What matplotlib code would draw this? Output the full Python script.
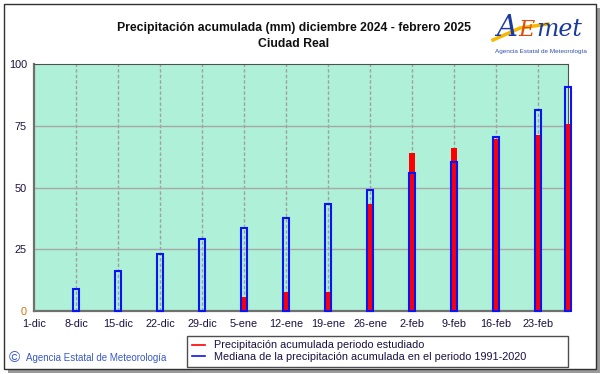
import matplotlib
matplotlib.use("Agg")
import matplotlib.pyplot as plt
from matplotlib.patches import Rectangle
from matplotlib.lines import Line2D

plt.rcParams['font.family'] = ['Liberation Sans', 'DejaVu Sans']

# dias desde el 1 de diciembre
dias = [0, 7, 14, 21, 28, 35, 42, 49, 56, 63, 70, 77, 84, 89]
etiquetas = ['1-dic', '8-dic', '15-dic', '22-dic', '29-dic', '5-ene', '12-ene',
             '19-ene', '26-ene', '2-feb', '9-feb', '16-feb', '23-feb']
mediana = [0, 8.9, 16.2, 23.0, 29.1, 33.7, 37.7, 43.3, 49.1, 56.0, 60.4, 70.3, 81.4, 90.8]
observada = [0, 0, 0, 0, 0, 5.7, 7.8, 7.8, 43.3, 63.8, 66.1, 69.5, 71.3, 75.6]

W, H = 601, 374
fig = plt.figure(figsize=(W / 100, H / 100), dpi=100)
fig.patch.set_facecolor('white')

def px(x, y):
    return x / W, 1 - y / H

# marco exterior con sombra
x0, y0 = px(8, 373)
fig.patches.append(Rectangle((x0, y0), 592 / W, 365 / H, transform=fig.transFigure,
                             facecolor='#9a9a9a', edgecolor='none', zorder=-3))
x0, y0 = px(4, 369)
fig.patches.append(Rectangle((x0, y0), 592 / W, 365 / H, transform=fig.transFigure,
                             facecolor='white', edgecolor='#303030', lw=1, zorder=-2))

l, t, r, b = 34, 64, 568, 311
ax = fig.add_axes([l / W, 1 - b / H, (r - l) / W, (b - t) / H])
ax.set_zorder(2)
ax.set_facecolor('#aef0d8')

# solo las barras con valor
dm = [d for d, v in zip(dias, mediana) if v > 0]
vm = [v for v in mediana if v > 0]
do = [d for d, v in zip(dias, observada) if v > 0]
vo = [v for v in observada if v > 0]

ax.bar(do, vo, width=1.0, color='#ff0000', edgecolor='none', zorder=3, clip_on=False)
ax.bar(dm, vm, width=1.05, facecolor='none', edgecolor='#0a14f5', linewidth=1.5,
       zorder=4, clip_on=False)

ax.set_xlim(0, 89)
ax.set_ylim(0, 100)
ax.set_xticks(dias[:-1])
ax.set_xticklabels(etiquetas)
ax.set_yticks([0, 25, 50, 75, 100])
ax.set_yticklabels(['0', '25', '50', '75', '100'])
ax.tick_params(axis='both', length=0, labelsize=7.8, colors='#1a1040')
ax.tick_params(axis='x', pad=6)
ax.tick_params(axis='y', pad=5)
ax.get_yticklabels()[0].set_color('#d87010')

for d in dias[1:-1]:
    ax.axvline(d, color='#a0a0a0', lw=1, ls=(0, (2.5, 1.5)), zorder=1)
for v in [25, 50, 75]:
    ax.axhline(v, color='#a8a8a8', lw=1, zorder=1)

for s in ['left', 'bottom']:
    ax.spines[s].set_color('#707070')
    ax.spines[s].set_linewidth(1.6)
for s in ['top', 'right']:
    ax.spines[s].set_color('#505050')
    ax.spines[s].set_linewidth(0.8)

# titulo
fig.text(294 / W, 1 - 28 / H, 'Precipitación acumulada (mm) diciembre 2024 - febrero 2025',
         ha='center', va='center', fontsize=8.8, fontweight='bold', color='#101010')
fig.text(294 / W, 1 - 44 / H, 'Ciudad Real', ha='center', va='center',
         fontsize=8.8, fontweight='bold', color='#101010')

# logo
fig.add_artist(Line2D([493 / W, 520 / W, 548 / W], [1 - 40 / H, 1 - 28 / H, 1 - 24 / H],
                      transform=fig.transFigure, color='#f5b800', lw=2.5, zorder=1))
fig.text(496 / W, 1 - 28 / H, 'A', ha='left', va='center', fontsize=21, style='italic',
         color='#1a3aa0', family='DejaVu Serif', zorder=2)
fig.text(518 / W, 1 - 30 / H, 'E', ha='left', va='center', fontsize=16, style='italic',
         color='#e04a10', family='DejaVu Serif', zorder=2)
fig.text(536 / W, 1 - 30 / H, 'met', ha='left', va='center', fontsize=17, style='italic',
         color='#1a3aa0', family='DejaVu Serif', zorder=2)
fig.text(541 / W, 1 - 52 / H, 'Agencia Estatal de Meteorología', ha='center', va='center',
         fontsize=4.6, color='#3050b0')

# copyright
fig.text(9 / W, 1 - 358 / H, '©', ha='left', va='center', fontsize=11, color='#3a5ac8')
fig.text(26 / W, 1 - 358 / H, 'Agencia Estatal de Meteorología', ha='left', va='center',
         fontsize=7.0, color='#3a5ac8')

# leyenda
handles = [Line2D([], [], color='#ff0000', lw=1.2), Line2D([], [], color='#0a14f5', lw=1.2)]
labels = ['Precipitación acumulada periodo estudiado',
          'Mediana de la precipitación acumulada en el periodo 1991-2020']
bx, by = px(187, 367)
leg = fig.legend(handles, labels, loc='lower left', bbox_to_anchor=(bx, by, (568 - 187) / W, 0.08),
                 mode='expand', borderaxespad=0, fontsize=7.8, frameon=True, fancybox=False,
                 handlelength=1.2, handletextpad=0.8, labelspacing=0.15, borderpad=0.45)
leg.get_frame().set_edgecolor('#202020')
leg.get_frame().set_linewidth(1)
for txt in leg.get_texts():
    txt.set_color('#1a1040')

fig.savefig('out.png', dpi=100)
